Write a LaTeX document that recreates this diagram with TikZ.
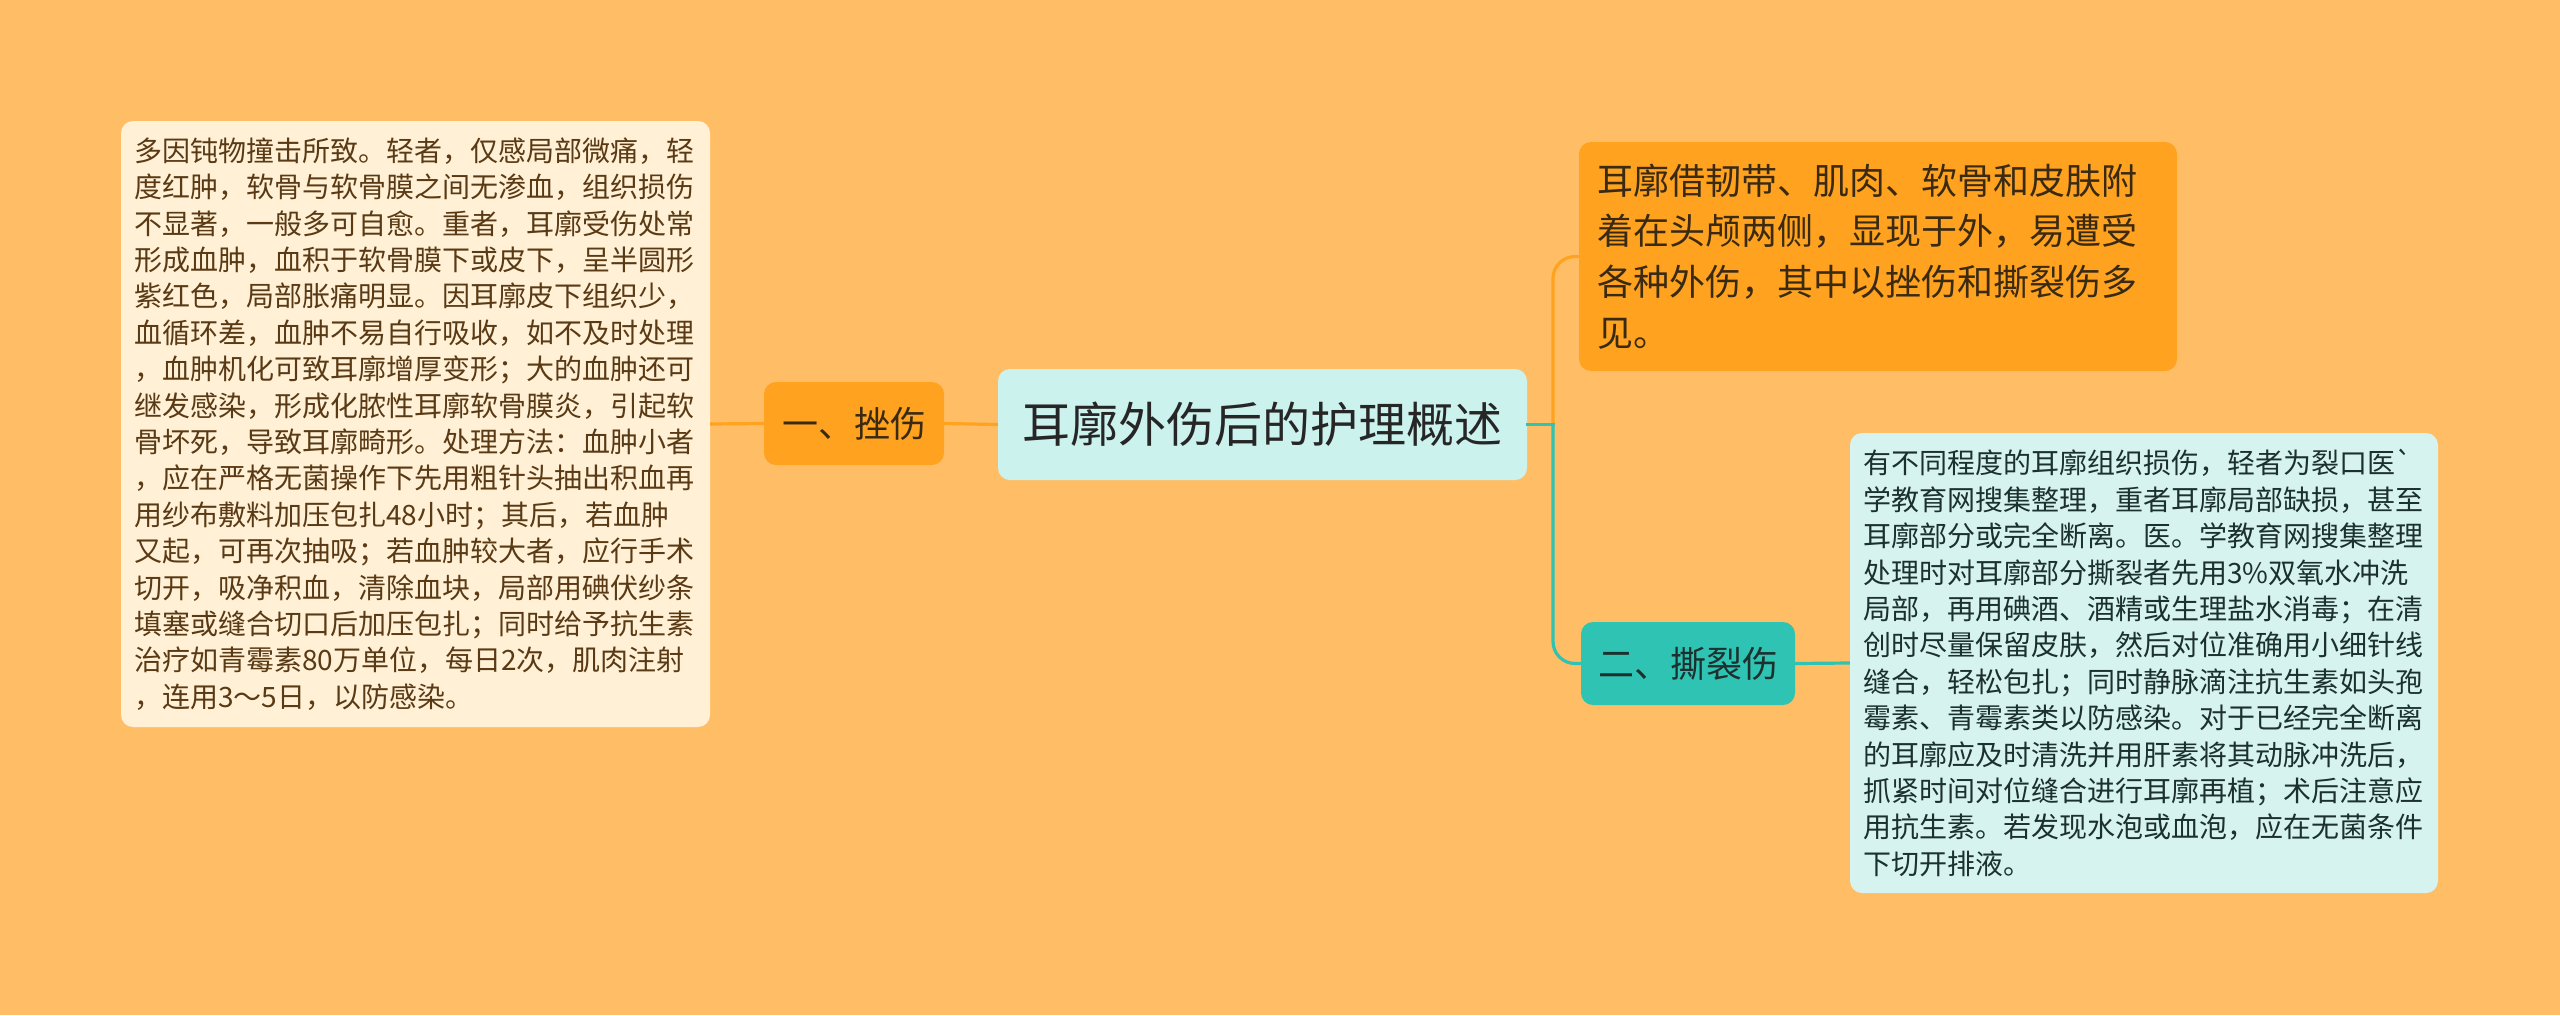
\documentclass[tikz,border=0pt]{standalone}
\usepackage{fontspec}
\newfontfamily\cjk{Noto Sans CJK SC}
\definecolor{bgc}{HTML}{FFBE66}
\definecolor{creamc}{HTML}{FFF0D6}
\definecolor{orangec}{HTML}{FFA21F}
\definecolor{cyanc}{HTML}{CCF2EE}
\definecolor{tealc}{HTML}{2FC3B3}
\definecolor{ltealc}{HTML}{D6F3F0}
\definecolor{brownt}{HTML}{5A3A14}
\definecolor{darkt}{HTML}{3A2A12}
\definecolor{tealt}{HTML}{1C302E}
\tikzset{
  box/.style={rectangle, rounded corners=12pt, draw=none, align=left},
  detailbox/.style={box, font=\cjk\fontsize{28}{36.4}\selectfont, inner sep=13pt},
  branchbox/.style={box, font=\cjk\fontsize{36}{44}\selectfont, align=center, inner sep=0pt},
  link/.style={line width=3.2pt},
}
\begin{document}
\begin{tikzpicture}[x=1pt,y=-1pt]
\useasboundingbox[fill=bgc] (0,0) rectangle (2560,1015);
% central topic
\node[box, fill=cyanc, font=\cjk\fontsize{48}{56}\selectfont, text=black!85, align=center,
      minimum width=529pt, minimum height=111pt, inner sep=0pt] (C) at (1262.5,424.5) {耳廓外伤后的护理概述};
% branch one
\node[branchbox, fill=orangec, text=darkt, minimum width=180pt, minimum height=83pt] (B1) at (854,423.5) {一、挫伤};
% branch two
\node[branchbox, fill=tealc, text=tealt, minimum width=214pt, minimum height=83pt] (B2) at (1688,663.5) {二、撕裂伤};
% top right intro box
\node[box, fill=orangec, text=darkt, font=\cjk\fontsize{36}{50.6}\selectfont, inner sep=18pt,
      text width=562pt, minimum width=598pt, minimum height=229pt] (T) at (1878,256.5) {耳廓借韧带、肌肉、软骨和皮肤附\\着在头颅两侧，显现于外，易遭受\\各种外伤，其中以挫伤和撕裂伤多\\见。};
% left detail box
\node[detailbox, fill=creamc, text=brownt, text width=563pt, minimum width=589pt, minimum height=606pt] (L) at (415.5,424) {多因钝物撞击所致。轻者，仅感局部微痛，轻\\度红肿，软骨与软骨膜之间无渗血，组织损伤\\不显著，一般多可自愈。重者，耳廓受伤处常\\形成血肿，血积于软骨膜下或皮下，呈半圆形\\紫红色，局部胀痛明显。因耳廓皮下组织少，\\血循环差，血肿不易自行吸收，如不及时处理\\，血肿机化可致耳廓增厚变形；大的血肿还可\\继发感染，形成化脓性耳廓软骨膜炎，引起软\\骨坏死，导致耳廓畸形。处理方法：血肿小者\\，应在严格无菌操作下先用粗针头抽出积血再\\用纱布敷料加压包扎48小时；其后，若血肿\\又起，可再次抽吸；若血肿较大者，应行手术\\切开，吸净积血，清除血块，局部用碘伏纱条\\填塞或缝合切口后加压包扎；同时给予抗生素\\治疗如青霉素80万单位，每日2次，肌肉注射\\，连用3～5日，以防感染。};
% right detail box
\node[detailbox, fill=ltealc, text=tealt, text width=562pt, minimum width=588pt, minimum height=460pt] (R) at (2144,663) {有不同程度的耳廓组织损伤，轻者为裂口医`\\学教育网搜集整理，重者耳廓局部缺损，甚至\\耳廓部分或完全断离。医。学教育网搜集整理\\处理时对耳廓部分撕裂者先用3\%双氧水冲洗\\局部，再用碘酒、酒精或生理盐水消毒；在清\\创时尽量保留皮肤，然后对位准确用小细针线\\缝合，轻松包扎；同时静脉滴注抗生素如头孢\\霉素、青霉素类以防感染。对于已经完全断离\\的耳廓应及时清洗并用肝素将其动脉冲洗后，\\抓紧时间对位缝合进行耳廓再植；术后注意应\\用抗生素。若发现水泡或血泡，应在无菌条件\\下切开排液。};
% connectors
\coordinate (J) at (1553,424.5);
\draw[link, orangec] (C.west) -- (B1.east);
\draw[link, orangec] (B1.west) -- (L.east);
\draw[link, orangec, rounded corners=22pt] (J) -- (J |- T.west) -- (T.west);
\draw[link, tealc, line cap=rect] (C.east) -- (J);
\draw[link, tealc, rounded corners=22pt] (J) -- (J |- B2.west) -- (B2.west);
\draw[link, tealc] (B2.east) -- (R.west);
\end{tikzpicture}
\end{document}
